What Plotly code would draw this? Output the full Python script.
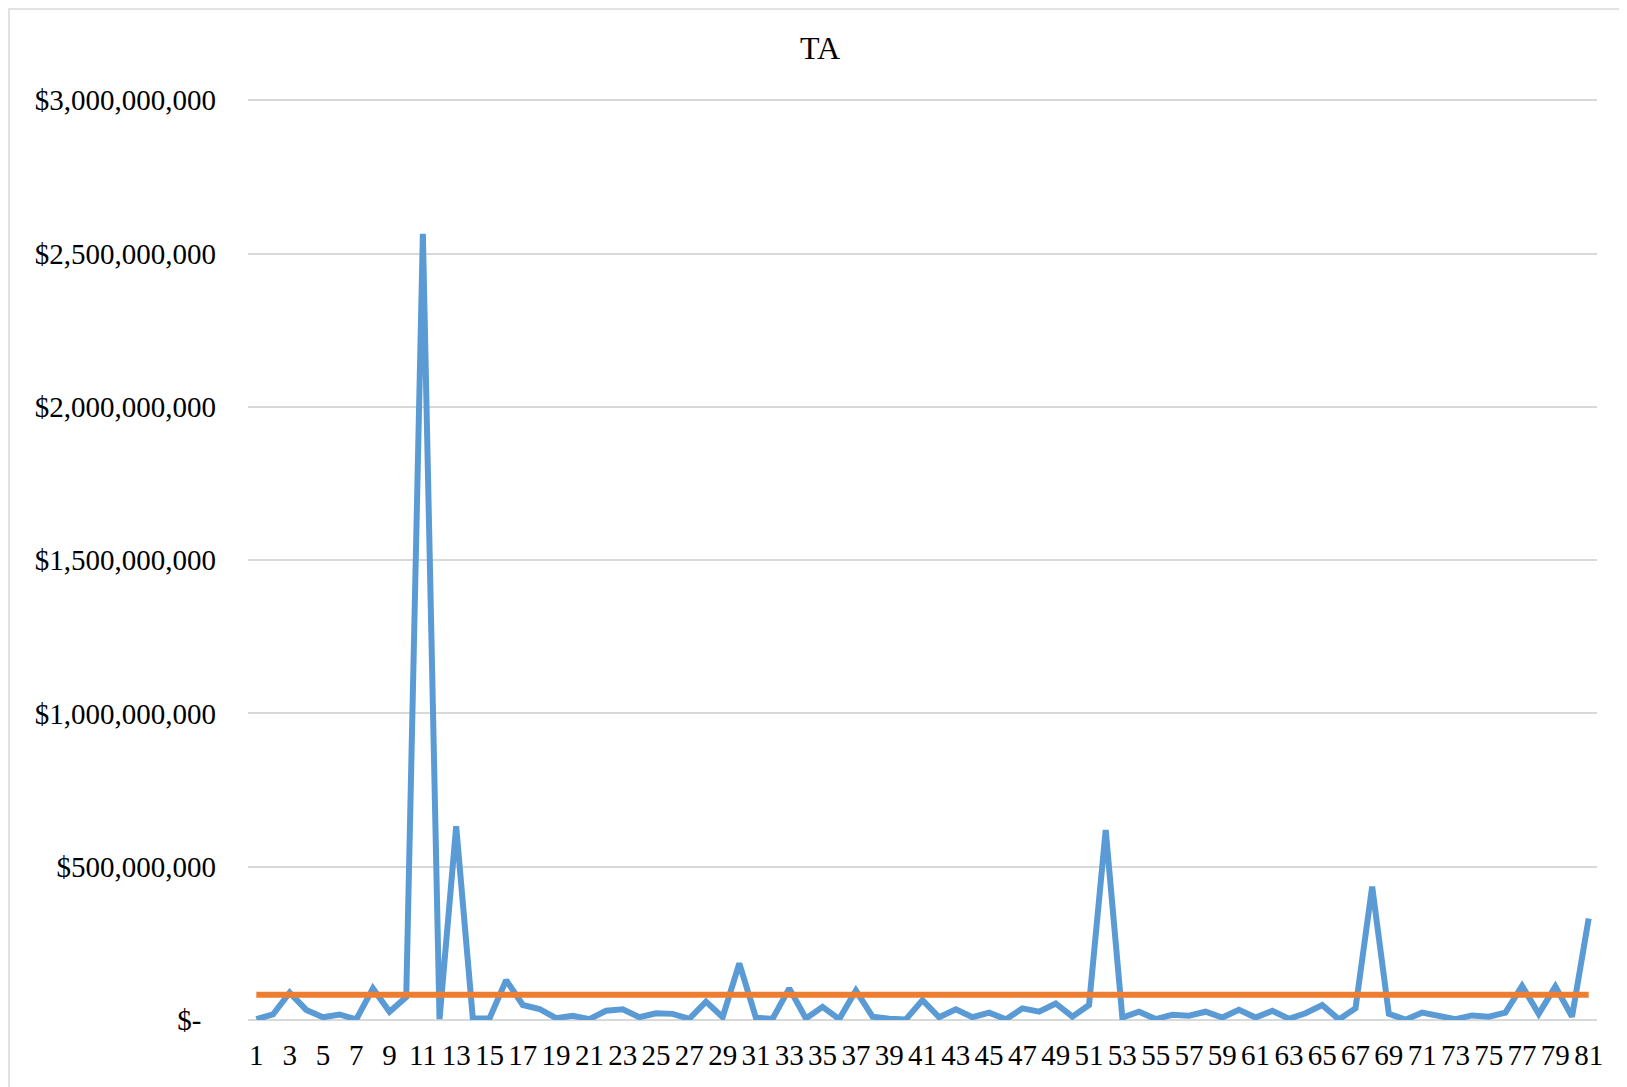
import plotly.graph_objects as go

categories = list(range(1, 82))
ta_values = [
    3e6, 18e6, 89e6, 33e6, 9e6, 18e6, 2e6, 103e6, 27e6, 75e6,
    2564e6, 3e6, 632e6, 5e6, 5e6, 130e6, 49e6, 36e6, 6e6, 14e6,
    3e6, 30e6, 35e6, 9e6, 22e6, 20e6, 4e6, 60e6, 9e6, 185e6,
    7e6, 4e6, 103e6, 5e6, 43e6, 3e6, 96e6, 11e6, 4e6, 2e6,
    65e6, 9e6, 35e6, 9e6, 24e6, 2e6, 38e6, 27e6, 54e6, 11e6,
    49e6, 620e6, 8e6, 27e6, 3e6, 17e6, 14e6, 27e6, 8e6, 33e6,
    8e6, 30e6, 4e6, 22e6, 49e6, 2e6, 38e6, 435e6, 20e6, 1e6,
    24e6, 11e6, 3e6, 15e6, 11e6, 24e6, 111e6, 20e6, 109e6, 11e6,
    331e6,
]
average_value = 82e6
average_values = [average_value] * len(categories)

y_tickvals = [0, 500e6, 1000e6, 1500e6, 2000e6, 2500e6, 3000e6]
y_ticktext = ["$-\u00a0\u00a0", "$500,000,000", "$1,000,000,000", "$1,500,000,000",
              "$2,000,000,000", "$2,500,000,000", "$3,000,000,000"]
x_tickvals = list(range(1, 82, 2))

FONT = "Liberation Serif, Times New Roman, serif"

fig = go.Figure()
fig.add_trace(go.Scatter(x=categories, y=ta_values, mode="lines",
                         line=dict(color="#5B9BD5", width=6), name="TA"))
fig.add_trace(go.Scatter(x=categories, y=average_values, mode="lines",
                         line=dict(color="#ED7D31", width=6), name="Average"))

W, H = 1627, 1087
L, R, T, B = 240, 38, 91, 75
pw, ph = W - L - R, H - T - B

fig.update_layout(
    width=W, height=H,
    margin=dict(l=L, r=R, t=T, b=B),
    paper_bgcolor="white", plot_bgcolor="white",
    showlegend=False,
    font=dict(family=FONT, size=29, color="black"),
    title=dict(text="TA", x=(812 - L) / pw, xref="paper", xanchor="center",
               y=1 - 40 / H, yanchor="middle",
               font=dict(family=FONT, size=32, color="black")),
    xaxis=dict(range=[0.5, 81.5], tickmode="array", tickvals=x_tickvals,
               ticktext=[str(v) for v in x_tickvals], showgrid=False,
               zeroline=False, showline=False, ticks="", ticklabelstandoff=15,
               tickfont=dict(family=FONT, size=29, color="black")),
    yaxis=dict(range=[0, 3.004e9], tickmode="array", tickvals=y_tickvals,
               ticktext=y_ticktext, showgrid=True, gridcolor="#D9D9D9",
               gridwidth=1.5, zeroline=True, zerolinecolor="#D9D9D9",
               zerolinewidth=1.5, showline=False, ticks="",
               ticklabelstandoff=31,
               tickfont=dict(family=FONT, size=29, color="black")),
)

# chart-area border (left and top visible)
fig.add_shape(type="rect", xref="paper", yref="paper",
              x0=(1 - L) / pw, x1=(W + 20 - L) / pw,
              y0=-(H + 20 - T - ph) / ph, y1=1 + (T - 1) / ph,
              line=dict(color="#D9D9D9", width=1.5), fillcolor="rgba(0,0,0,0)",
              layer="below")

fig.write_html("out.html")
